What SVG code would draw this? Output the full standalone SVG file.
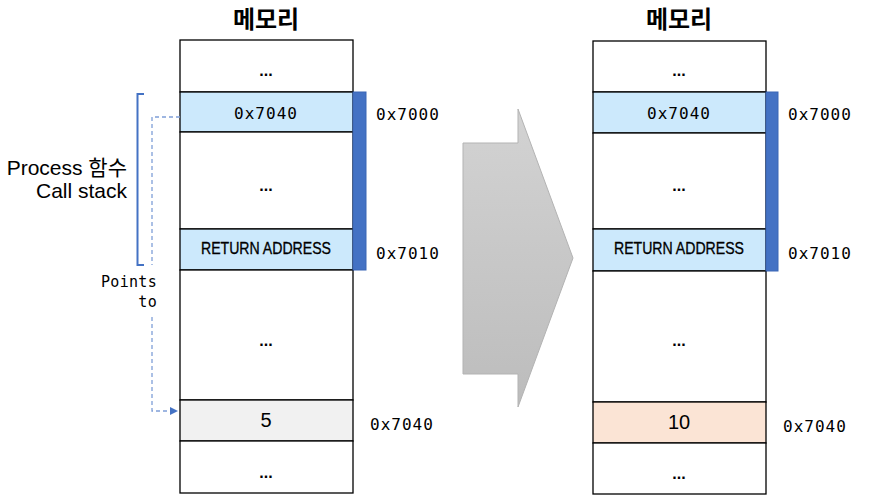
<svg xmlns="http://www.w3.org/2000/svg" width="877" height="503" viewBox="0 0 877 503">
<defs>
<style>
.cell{fill:#ffffff;stroke:#000;stroke-width:1.3}
.blue{fill:#cce9fc;stroke:#000;stroke-width:1.3}
.gray{fill:#f1f1f1;stroke:#000;stroke-width:1.3}
.orange{fill:#fbe4d5;stroke:#000;stroke-width:1.3}
.bar{fill:#4472c4;stroke:#3a66b5;stroke-width:1}
.mono{font-family:"DejaVu Sans Mono","Liberation Mono",monospace;font-size:16px;fill:#000;letter-spacing:1px}
.sans{font-family:"Liberation Sans","Noto Sans CJK KR",sans-serif;fill:#000}
.dots{font-family:"Liberation Sans",sans-serif;font-size:16px;font-weight:bold;fill:#000;text-anchor:middle}
.title{font-family:"Noto Sans CJK KR",sans-serif;font-size:24px;font-weight:bold;fill:#000;text-anchor:middle}
.dash{fill:none;stroke:#7f9fd8;stroke-width:1.3;stroke-dasharray:4 3}
.pt{font-family:"DejaVu Sans Mono","Liberation Mono",monospace;font-size:15px;fill:#000;text-anchor:end;letter-spacing:0.3px}
</style>
<linearGradient id="g" x1="0" y1="0" x2="0" y2="1">
<stop offset="0" stop-color="#d3d3d3"/>
<stop offset="1" stop-color="#bcbcbc"/>
</linearGradient>
<marker id="arr" markerWidth="8" markerHeight="8" refX="7" refY="4" orient="auto" markerUnits="userSpaceOnUse">
<path d="M0,0 L8,4 L0,8 Z" fill="#4472c4"/>
</marker>
</defs>
<rect width="877" height="503" fill="#fff"/>

<g id="left-memory">
<text class="title" x="266" y="28">메모리</text>
<rect class="cell" x="180" y="40" width="173" height="52"/>
<text class="dots" x="266" y="76">...</text>
<rect class="blue" x="180" y="92" width="173" height="40"/>
<text class="mono" x="266" y="119" text-anchor="middle">0x7040</text>
<rect class="cell" x="180" y="132" width="173" height="97"/>
<text class="dots" x="266" y="191">...</text>
<rect class="blue" x="180" y="229" width="173" height="41"/>
<text class="sans" x="266" y="254" font-size="16" text-anchor="middle" textLength="130" lengthAdjust="spacingAndGlyphs" stroke="#000" stroke-width="0.3">RETURN ADDRESS</text>
<rect class="cell" x="180" y="270" width="173" height="130"/>
<text class="dots" x="266" y="346">...</text>
<rect class="gray" x="180" y="400" width="173" height="41"/>
<text class="sans" x="266" y="427" font-size="20" text-anchor="middle">5</text>
<rect class="cell" x="180" y="441" width="173" height="52"/>
<text class="dots" x="266" y="478">...</text>
<rect class="bar" x="353" y="92" width="13" height="178"/>
<text class="mono" x="376" y="120">0x7000</text>
<text class="mono" x="376" y="259">0x7010</text>
<text class="mono" x="370" y="430">0x7040</text>
</g>

<g id="call-stack-label">
<path d="M144,94 H137.5 V265 H144" fill="none" stroke="#4472c4" stroke-width="2"/>
<text class="sans" x="127" y="175" font-size="21" text-anchor="end">Process 함수</text>
<text class="sans" x="127" y="198" font-size="21" text-anchor="end">Call stack</text>
</g>

<g id="connectors">
<path class="dash" d="M180,117 H152 V265"/>
<path class="dash" d="M152,317 V411 H177" marker-end="url(#arr)"/>
<text class="pt" x="157" y="287">Points</text>
<text class="pt" x="157" y="307">to</text>
</g>

<g id="transition-arrow">
<path d="M463,143 H518 V109 L573,258 L518,407 V374 H463 Z" fill="url(#g)" stroke="#b3b3b3" stroke-width="1"/>
</g>

<g id="right-memory">
<text class="title" x="679" y="28">메모리</text>
<rect class="cell" x="593" y="41" width="173" height="51"/>
<text class="dots" x="679" y="76">...</text>
<rect class="blue" x="593" y="92" width="173" height="41"/>
<text class="mono" x="679" y="119" text-anchor="middle">0x7040</text>
<rect class="cell" x="593" y="133" width="173" height="96"/>
<text class="dots" x="679" y="191">...</text>
<rect class="blue" x="593" y="229" width="173" height="42"/>
<text class="sans" x="679" y="254" font-size="16" text-anchor="middle" textLength="130" lengthAdjust="spacingAndGlyphs" stroke="#000" stroke-width="0.3">RETURN ADDRESS</text>
<rect class="cell" x="593" y="271" width="173" height="131"/>
<text class="dots" x="679" y="346">...</text>
<rect class="orange" x="593" y="402" width="173" height="41"/>
<text class="sans" x="679" y="429" font-size="20" text-anchor="middle">10</text>
<rect class="cell" x="593" y="443" width="173" height="51"/>
<text class="dots" x="679" y="479">...</text>
<rect class="bar" x="766" y="92" width="12" height="179"/>
<text class="mono" x="788" y="120">0x7000</text>
<text class="mono" x="788" y="259">0x7010</text>
<text class="mono" x="783" y="432">0x7040</text>
</g>
</svg>
